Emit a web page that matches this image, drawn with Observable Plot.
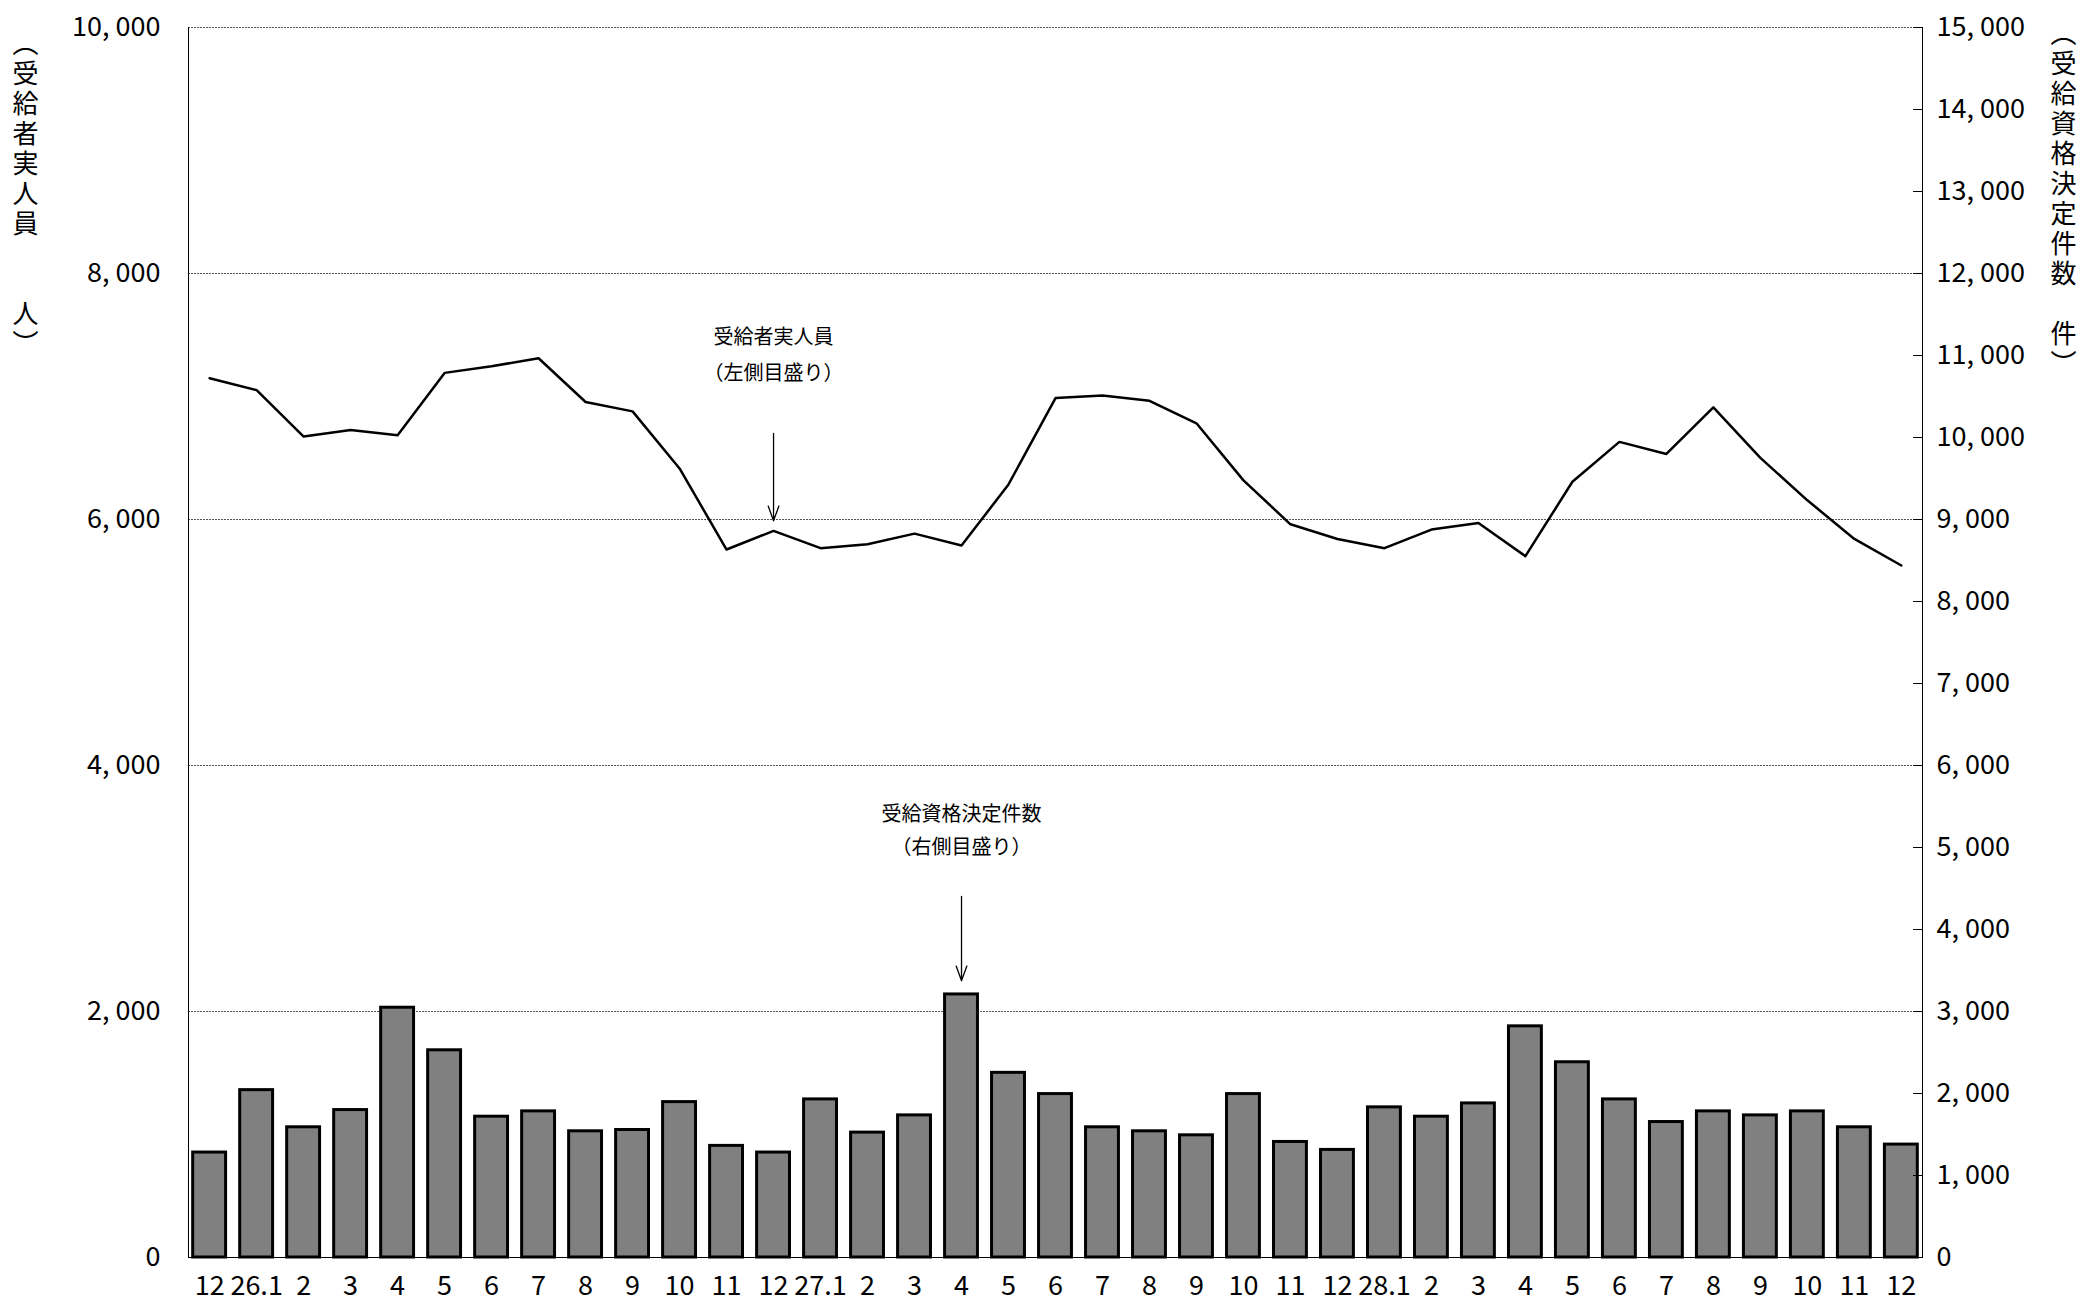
<!DOCTYPE html>
<html><head><meta charset="utf-8">
<script src="https://cdn.jsdelivr.net/npm/d3@7"></script>
<script src="https://cdn.jsdelivr.net/npm/@observablehq/plot@0.6"></script>
<style>
body{margin:0;background:#fff;font-family:"Noto Sans CJK JP",sans-serif}
#wrap{position:relative;width:2081px;height:1309px}
.vt{position:absolute;writing-mode:vertical-rl;font-size:26px;line-height:1;letter-spacing:4px;color:#000}
</style></head><body>
<div id="wrap">
<div class="vt" style="left:12px;top:30px">（受給者実人員　　人）</div>
<div class="vt" style="left:2050px;top:20px">（受給資格決定件数　件）</div>
</div>
<script>
const months = ["12","26.1","2","3","4","5","6","7","8","9","10","11","12","27.1","2","3","4","5","6","7","8","9","10","11","12","28.1","2","3","4","5","6","7","8","9","10","11","12"];
const recipients = [7149,7052,6674,6728,6685,7192,7246,7311,6955,6879,6415,5756,5907,5767,5799,5885,5788,6285,6987,7009,6965,6782,6318,5961,5842,5767,5918,5972,5702,6307,6631,6533,6911,6501,6156,5842,5626];
const decisions = [1280,2041,1588,1798,3046,2527,1717,1782,1539,1555,1895,1361,1280,1928,1523,1733,3208,2252,1993,1588,1539,1490,1993,1409,1312,1831,1717,1879,2819,2381,1928,1652,1782,1733,1782,1588,1377];
const leftTicks = [0,2000,4000,6000,8000,10000];
const rightTicks = d3.range(0,15001,1000);

const k = 10000/15000;
const rows = months.map((m,i)=>({i, rec: recipients[i], dec: decisions[i]*k}));
const fmt = v => d3.format(",")(v).replace(",", ", ");
const font = "Noto Sans CJK JP";

const plot = Plot.plot({
  width: 2081, height: 1309,
  marginLeft: 188, marginRight: 159, marginTop: 27, marginBottom: 52,
  style: {fontFamily: font, fontSize: "27px", color: "#000", background: "#fff"},
  x: {type: "band", domain: d3.range(months.length), paddingInner: 0.3, paddingOuter: 0.1, label: null},
  y: {domain: [0, 10000], label: null},
  marks: [
    Plot.ruleY(leftTicks.slice(1), {stroke: "#555", strokeDasharray: "2,1", strokeWidth: 1.2}),
    Plot.barY(rows, {x: "i", y: "dec", fill: "#808080", stroke: "#000", strokeWidth: 3}),
    Plot.line(rows, {x: "i", y: "rec", stroke: "#000", strokeWidth: 2.5}),
    Plot.axisY({ticks: leftTicks, tickFormat: fmt, tickSize: 0, tickPadding: 28, fontSize: 27}),
    Plot.axisY({anchor: "right", ticks: rightTicks.map(v=>v*k), tickFormat: v => fmt(Math.round(v/k)), tickSize: -10, tickPadding: 24, fontSize: 27}),
    Plot.axisX({tickFormat: i => months[i], tickSize: 0, tickPadding: 18, fontSize: 27}),
    Plot.frame({anchor: "left"}),
    Plot.frame({anchor: "right"}),
    Plot.ruleY([0]),
    Plot.text([{i: 12, y: 7480, t: "受給者実人員"}, {i: 12, y: 7190, t: "（左側目盛り）"},
               {i: 16, y: 3600, t: "受給資格決定件数"}, {i: 16, y: 3330, t: "（右側目盛り）"}],
      {x: "i", y: "y", text: "t", fontSize: 20, fill: "#000"}),
    Plot.arrow([{i: 12, y1: 6700, y2: 5990}, {i: 16, y1: 2935, y2: 2250}],
      {x: "i", y1: "y1", y2: "y2", stroke: "#000", strokeWidth: 1.3, headLength: 18, headAngle: 40})
  ]
});
document.getElementById("wrap").prepend(plot);
</script>
</body></html>
